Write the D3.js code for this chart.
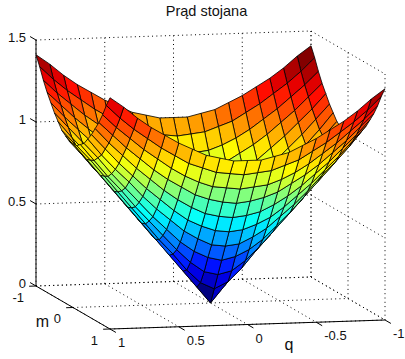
<!DOCTYPE html>
<html>
<head>
<meta charset="utf-8">
<script src="https://cdn.jsdelivr.net/npm/d3@7"></script>
<style>
html, body { margin: 0; padding: 0; background: #fff; }
svg { display: block; }
text { font-family: "Liberation Sans", Arial, sans-serif; font-size: 13px; fill: #111; }
</style>
</head>
<body>
<svg id="chart" width="405" height="359"></svg>
<script>
var title = "Prąd stojana";
var qVals = [-1, -0.9, -0.8, -0.7, -0.6, -0.5, -0.4, -0.3, -0.2, -0.1, 0, 0.1, 0.2, 0.3, 0.4, 0.5, 0.6, 0.7, 0.8, 0.9, 1];
var mVals = [-1, -0.9, -0.8, -0.7, -0.6, -0.5, -0.4, -0.3, -0.2, -0.1, 0, 0.1, 0.2, 0.3, 0.4, 0.5, 0.6, 0.7, 0.8, 0.9, 1];
// one row per m, one column per q
var zRows = [
  [1.41,1.35,1.28,1.22,1.17,1.12,1.08,1.04,1.02,1.00,1.00,1.00,1.02,1.04,1.08,1.12,1.17,1.22,1.28,1.35,1.41],
  [1.35,1.27,1.20,1.14,1.08,1.03,0.98,0.95,0.92,0.91,0.90,0.91,0.92,0.95,0.98,1.03,1.08,1.14,1.20,1.27,1.35],
  [1.28,1.20,1.13,1.06,1.00,0.94,0.89,0.85,0.82,0.81,0.80,0.81,0.82,0.85,0.89,0.94,1.00,1.06,1.13,1.20,1.28],
  [1.22,1.14,1.06,0.99,0.92,0.86,0.81,0.76,0.73,0.71,0.70,0.71,0.73,0.76,0.81,0.86,0.92,0.99,1.06,1.14,1.22],
  [1.17,1.08,1.00,0.92,0.85,0.78,0.72,0.67,0.63,0.61,0.60,0.61,0.63,0.67,0.72,0.78,0.85,0.92,1.00,1.08,1.17],
  [1.12,1.03,0.94,0.86,0.78,0.71,0.64,0.58,0.54,0.51,0.50,0.51,0.54,0.58,0.64,0.71,0.78,0.86,0.94,1.03,1.12],
  [1.08,0.98,0.89,0.81,0.72,0.64,0.57,0.50,0.45,0.41,0.40,0.41,0.45,0.50,0.57,0.64,0.72,0.81,0.89,0.98,1.08],
  [1.04,0.95,0.85,0.76,0.67,0.58,0.50,0.42,0.36,0.32,0.30,0.32,0.36,0.42,0.50,0.58,0.67,0.76,0.85,0.95,1.04],
  [1.02,0.92,0.82,0.73,0.63,0.54,0.45,0.36,0.28,0.22,0.20,0.22,0.28,0.36,0.45,0.54,0.63,0.73,0.82,0.92,1.02],
  [1.00,0.91,0.81,0.71,0.61,0.51,0.41,0.32,0.22,0.14,0.10,0.14,0.22,0.32,0.41,0.51,0.61,0.71,0.81,0.91,1.00],
  [1.00,0.90,0.80,0.70,0.60,0.50,0.40,0.30,0.20,0.10,0.00,0.10,0.20,0.30,0.40,0.50,0.60,0.70,0.80,0.90,1.00],
  [1.00,0.91,0.81,0.71,0.61,0.51,0.41,0.32,0.22,0.14,0.10,0.14,0.22,0.32,0.41,0.51,0.61,0.71,0.81,0.91,1.00],
  [1.02,0.92,0.82,0.73,0.63,0.54,0.45,0.36,0.28,0.22,0.20,0.22,0.28,0.36,0.45,0.54,0.63,0.73,0.82,0.92,1.02],
  [1.04,0.95,0.85,0.76,0.67,0.58,0.50,0.42,0.36,0.32,0.30,0.32,0.36,0.42,0.50,0.58,0.67,0.76,0.85,0.95,1.04],
  [1.08,0.98,0.89,0.81,0.72,0.64,0.57,0.50,0.45,0.41,0.40,0.41,0.45,0.50,0.57,0.64,0.72,0.81,0.89,0.98,1.08],
  [1.12,1.03,0.94,0.86,0.78,0.71,0.64,0.58,0.54,0.51,0.50,0.51,0.54,0.58,0.64,0.71,0.78,0.86,0.94,1.03,1.12],
  [1.17,1.08,1.00,0.92,0.85,0.78,0.72,0.67,0.63,0.61,0.60,0.61,0.63,0.67,0.72,0.78,0.85,0.92,1.00,1.08,1.17],
  [1.22,1.14,1.06,0.99,0.92,0.86,0.81,0.76,0.73,0.71,0.70,0.71,0.73,0.76,0.81,0.86,0.92,0.99,1.06,1.14,1.22],
  [1.28,1.20,1.13,1.06,1.00,0.94,0.89,0.85,0.82,0.81,0.80,0.81,0.82,0.85,0.89,0.94,1.00,1.06,1.13,1.20,1.28],
  [1.35,1.27,1.20,1.14,1.08,1.03,0.98,0.95,0.92,0.91,0.90,0.91,0.92,0.95,0.98,1.03,1.08,1.14,1.20,1.27,1.35],
  [1.41,1.35,1.28,1.22,1.17,1.12,1.08,1.04,1.02,1.00,1.00,1.00,1.02,1.04,1.08,1.12,1.17,1.22,1.28,1.35,1.41]
];
var qTicks = [1, 0.5, 0, -0.5, -1];
var mTicks = [-1, 0, 1];
var zTicks = [0, 0.5, 1, 1.5];
var jetStops = ["#000080", "#0000ff", "#00ffff", "#ffff00", "#ff0000", "#800000"];

var svg = d3.select("#chart");

// oblique projection, each data axis has its own screen offset
var x0 = 210.5, y0 = 303;
var qx = d3.scaleLinear().domain([-1, 1]).range([137.5, -137.5]);
var qy = d3.scaleLinear().domain([-1, 1]).range([-4.5, 4.5]);
var mx = d3.scaleLinear().domain([-1, 1]).range([-37, 37]);
var my = d3.scaleLinear().domain([-1, 1]).range([-21.5, 21.5]);
var zy = d3.scaleLinear().domain([0, 1.5]).range([0, -246]);
var color = d3.scaleLinear()
  .domain([0, 0.125, 0.375, 0.625, 0.875, 1].map(function(t) { return t * 1.414; }))
  .range(jetStops);

function px(q, m) { return x0 + qx(q) + mx(m); }
function py(q, m, z) { return y0 + qy(q) + my(m) + zy(z); }

var line = d3.line().x(function(d) { return d[0]; }).y(function(d) { return d[1]; });

function seg(g, a, b) {
  return g.append("path")
    .attr("d", line([[px(a[0], a[1]), py(a[0], a[1], a[2])], [px(b[0], b[1]), py(b[0], b[1], b[2])]]))
    .attr("fill", "none").attr("stroke", "#000");
}

// dotted box and grid
var grid = svg.append("g").attr("stroke-dasharray", "1 3.3");
zTicks.forEach(function(z) {
  seg(grid, [1, -1, z], [-1, -1, z]);
  seg(grid, [-1, -1, z], [-1, 1, z]);
});
qTicks.forEach(function(q) {
  seg(grid, [q, -1, 0], [q, -1, 1.5]);
  seg(grid, [q, -1, 0], [q, 1, 0]);
});
mTicks.forEach(function(m) {
  seg(grid, [-1, m, 0], [-1, m, 1.5]);
  seg(grid, [1, m, 0], [-1, m, 0]);
});

// solid axes
var axes = svg.append("g");
seg(axes, [1, -1, 0], [1, -1, 1.5]);
seg(axes, [1, -1, 0], [1, 1, 0]);
seg(axes, [1, 1, 0], [-1, 1, 0]);
zTicks.forEach(function(z) { seg(axes, [1, -1, z], [1, -1.16, z]); });
mTicks.forEach(function(m) { seg(axes, [1, m, 0], [1.05, m, 0]); });
qTicks.forEach(function(q) { seg(axes, [q, 1, 0], [q, 1.16, 0]); });

// surface faces, far to near, colour from the lowest-index vertex
var cells = [];
mVals.slice(0, -1).forEach(function(m, i) {
  qVals.slice(0, -1).forEach(function(q, j) {
    cells.push({ i: i, j: j, z: zRows[i][j] });
  });
});
function vert(i, j) {
  return [px(qVals[j], mVals[i]), py(qVals[j], mVals[i], zRows[i][j])];
}
svg.append("g").selectAll("path").data(cells).join("path")
  .attr("d", function(d) {
    return line([vert(d.i, d.j), vert(d.i, d.j + 1), vert(d.i + 1, d.j + 1), vert(d.i + 1, d.j)]) + "Z";
  })
  .attr("fill", function(d) { return color(d.z); })
  .attr("stroke", "#000")
  .attr("stroke-width", 0.8)
  .attr("stroke-linejoin", "round");

// labels
svg.append("text").attr("x", 206.5).attr("y", 16).attr("text-anchor", "middle").style("font-size", "14.5px").text(title);
svg.append("g").selectAll("text").data(zTicks).join("text")
  .attr("x", 26).attr("text-anchor", "end")
  .attr("y", function(d) { return py(1, -1, d) + 2; })
  .text(function(d) { return d; });
svg.append("g").selectAll("text").data(mTicks).join("text")
  .attr("text-anchor", "end")
  .attr("x", function(d) { return px(1, d) - 12; })
  .attr("y", function(d) { return py(1, d, 0) + 15.5; })
  .text(function(d) { return d; });
svg.append("g").selectAll("text").data(qTicks).join("text")
  .attr("x", function(d) { return px(d, 1) + 8; })
  .attr("y", function(d) { return py(d, 1, 0) + 18; })
  .text(function(d) { return d; });
svg.append("text").attr("x", 42.5).attr("y", 327).attr("text-anchor", "middle").style("font-size", "16px").text("m");
svg.append("text").attr("x", 289).attr("y", 350).attr("text-anchor", "middle").style("font-size", "16px").text("q");
</script>
</body>
</html>
